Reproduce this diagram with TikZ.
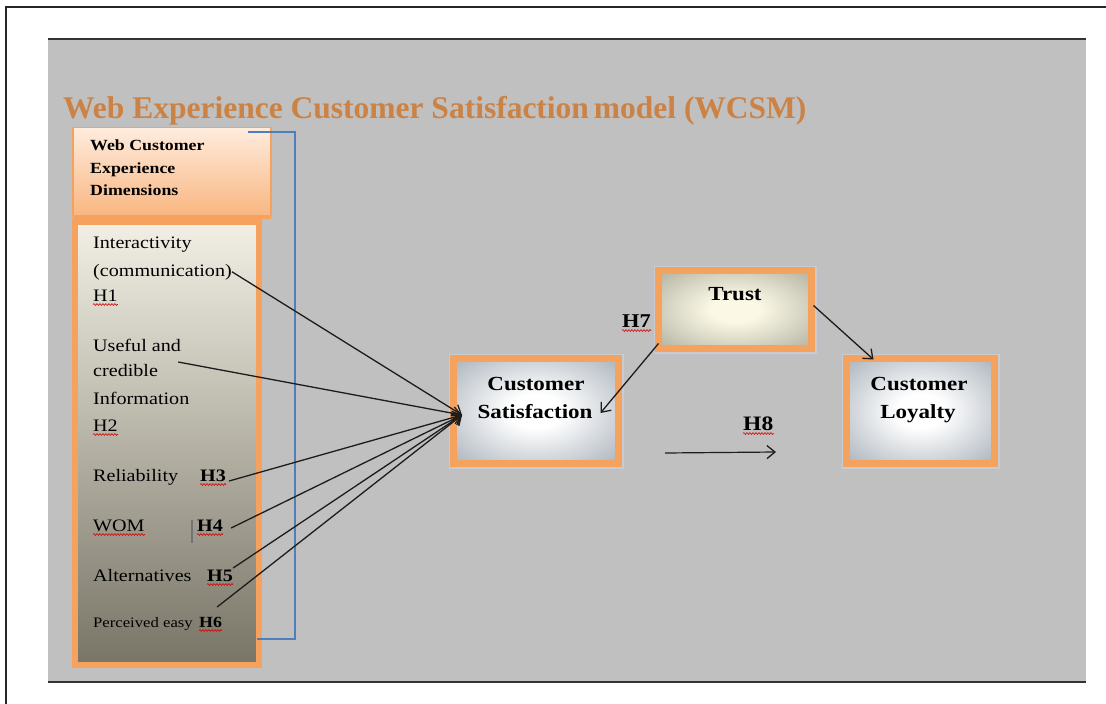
\documentclass[tikz,border=0pt]{standalone}
\usepackage{fontspec}
\setmainfont{Liberation Serif}[FakeStretch=1.15]
\newfontfamily\titlefont{Liberation Serif}
\usetikzlibrary{arrows.meta,calc,decorations.pathmorphing}

\definecolor{panelgray}{RGB}{192,192,192}
\definecolor{boxorange}{RGB}{244,162,94}
\definecolor{titleorange}{RGB}{203,130,68}
\definecolor{bracketblue}{RGB}{79,126,190}
\definecolor{glowblue}{RGB}{198,204,210}
\definecolor{satedge}{RGB}{138,150,162}
\definecolor{trustedge}{RGB}{150,150,132}
\definecolor{trustcore}{RGB}{251,248,230}
\definecolor{inkdark}{RGB}{28,28,28}
\definecolor{listtop}{RGB}{242,240,229}
\definecolor{listmid}{RGB}{186,183,168}
\definecolor{listbot}{RGB}{120,116,102}
\definecolor{hdrtop}{RGB}{254,236,222}
\definecolor{hdrbot}{RGB}{249,182,128}

\pgfdeclareradialshading{satglow}{\pgfpoint{0bp}{0bp}}{color(0bp)=(white); color(8bp)=(white); color(46bp)=(satedge); color(72bp)=(satedge)}
\pgfdeclareradialshading{trustglow}{\pgfpoint{0bp}{0bp}}{color(0bp)=(trustcore); color(8bp)=(trustcore); color(46bp)=(trustedge); color(72bp)=(trustedge)}

\tikzset{
  hdrbox/.style={draw=boxorange, line width=1.5pt, top color=hdrtop, bottom color=hdrbot, inner sep=0pt, outer sep=0pt},
  listbox/.style={draw=boxorange, line width=6pt, top color=listtop, middle color=listmid, bottom color=listbot, inner sep=0pt, outer sep=0pt},
  satbox/.style={preaction={draw=glowblue, line width=10pt}, draw=boxorange, line width=7pt, shading=satglow, inner sep=0pt, outer sep=0pt},
  trustbox/.style={preaction={draw=glowblue, line width=10pt}, draw=boxorange, line width=7pt, shading=trustglow, inner sep=0pt, outer sep=0pt},
  hdrtext/.style={anchor=base west, inner sep=0pt, font=\bfseries\fontsize{15.5}{18}\selectfont},
  item/.style={anchor=base west, inner sep=0pt, font=\fontsize{17.5}{21}\selectfont},
  itemsmall/.style={anchor=base west, inner sep=0pt, font=\fontsize{14.5}{17}\selectfont},
  hyp/.style={anchor=base west, inner sep=0pt, font=\bfseries\fontsize{17.5}{21}\selectfont},
  boxlabel/.style={anchor=base, inner sep=0pt, font=\bfseries\fontsize{20}{24}\selectfont},
  squig/.style={draw=red!85!black, line width=0.6pt, decorate, decoration={snake, amplitude=0.9pt, segment length=3pt}},
  conn/.style={draw=inkdark, line width=1.3pt, -{Straight Barb[length=8pt,width=13pt,line width=1.3pt]}},
}

\begin{document}
\begin{tikzpicture}[x=1pt, y=-1pt]
\useasboundingbox (0,0) rectangle (1106,704);
\fill[white] (0,0) rectangle (1106,704);

% page frame
\draw[line width=1.3pt, black!85] (6,704) -- (6,7) -- (1106,7);

% grey panel
\fill[panelgray] (48,39) rectangle (1086,682);
\draw[line width=1.5pt, black!80] (48,39) -- (1086,39);
\draw[line width=1.5pt, black!80] (48,682) -- (1086,682);

% title
\node[anchor=base west, inner sep=0pt, text=titleorange,
      font=\titlefont\bfseries\fontsize{31.5}{36}\selectfont] (title) at (63,118)
  {Web Experience Customer Satisfaction\hspace{-3pt} model (WCSM)};

% dimensions column
\node[hdrbox, minimum width=198pt, minimum height=89pt] (hdr) at (172,172) {};
\draw[boxorange, line width=4pt] (hdr.south west) -- (hdr.south east);
\node[hdrtext] (hd1) at (90,150) {Web Customer};
\node[hdrtext] (hd2) at (90,173) {Experience};
\node[hdrtext] (hd3) at (90,195) {Dimensions};

\node[listbox, minimum width=184pt, minimum height=443pt] (dims) at (167,443.5) {};

% bracket grouping the dimensions
\draw[bracketblue, line width=1.2pt] (248,132) -- (295,132) -- (295,639) -- (257,639);

\node[item] (inter) at (93,248) {Interactivity};
\node[item] (comm)  at (93,276) {(communication)};
\node[item] (h1)    at (93,301) {H1};
\node[item] (usef)  at (93,351) {Useful and};
\node[item] (cred)  at (93,376) {credible};
\node[item] (info)  at (93,404) {Information};
\node[item] (h2)    at (93,431) {H2};
\node[item] (rel)   at (93,481) {Reliability};
\node[hyp]  (h3)    at (200,481) {H3};
\node[item] (wom)   at (93,531) {WOM};
\node[hyp]  (h4)    at (197,531) {H4};
\node[item] (alt)   at (93,581) {Alternatives};
\node[hyp]  (h5)    at (207,581) {H5};
\node[itemsmall] (pe) at (93,627) {Perceived easy};
\node[hyp, font=\bfseries\fontsize{15.5}{18}\selectfont, anchor=base west] (h6) at ($(pe.base east)+(6,0)$) {H6};

\draw[line width=2pt, black!55] (192,520) -- (192,543);

% spelling marks
\foreach \n in {h1,h2,h3,wom,h4,h5,h6}
  \draw[squig] ($(\n.base west)+(0,3.5)$) -- ($(\n.base east)+(0,3.5)$);

% construct boxes
\node[satbox, minimum width=165pt, minimum height=105pt] (sat) at (536,411) {};
\node[boxlabel] (sat1) at (536,390) {Customer};
\node[boxlabel] (sat2) at (535,418) {Satisfaction};

\node[trustbox, minimum width=153pt, minimum height=78pt] (trust) at (735,309.5) {};
\node[boxlabel] (trust1) at (735,300) {Trust};

\node[satbox, minimum width=148pt, minimum height=105pt] (loy) at (920.5,411) {};
\node[boxlabel] (loy1) at (919,390) {Customer};
\node[boxlabel] (loy2) at (918,418) {Loyalty};

\node[hyp, font=\bfseries\fontsize{19.5}{22}\selectfont] (h7) at (622,327) {H7};
\node[hyp, font=\bfseries\fontsize{20.5}{24}\selectfont] (h8) at (743,430) {H8};
\foreach \n in {h7,h8}
  \draw[squig] ($(\n.base west)+(0,3.5)$) -- ($(\n.base east)+(0,3.5)$);

% hypothesised paths
\coordinate (hub) at ($(sat.west)+(8.5,4)$);
\draw[conn] (comm.east) -- (hub);
\draw[conn] ($(cred.east)+(20,-8)$) -- (hub);
\draw[conn] ($(h3.base east)+(3,0)$) -- (hub);
\draw[conn] ($(h4.base east)+(8,-3)$) -- (hub);
\draw[conn] ($(h5.base east)+(0,-13)$) -- (hub);
\draw[conn] ($(h6.base east)+(-5,-20)$) -- (hub);

\draw[conn] ($(trust.south west)+(0,-5)$) -- ($(sat.east)+(-18,2)$);
\draw[conn] ($(trust.east)+(2,-4)$) -- ($(loy.north west)+(27,1)$);

\coordinate (h8a) at ($(h8.base west)+(-78,23)$);
\coordinate (h8b) at ($(h8.base west)+(33,22)$);
\draw[conn, line width=1.2pt] (h8a) -- (h8b);
\end{tikzpicture}
\end{document}
